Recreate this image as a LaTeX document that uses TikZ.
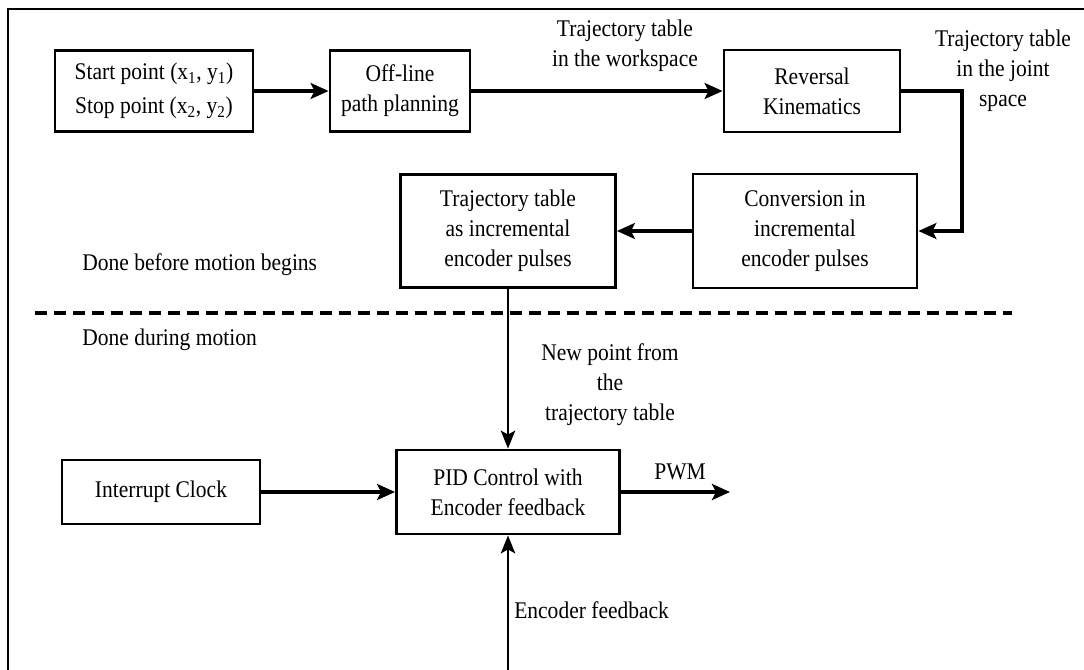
\documentclass[tikz,border=0pt]{standalone}
\usepackage{fontspec}
\setmainfont{Liberation Serif}[FakeStretch=0.9]
\usetikzlibrary{arrows.meta}
\begin{document}
\begin{tikzpicture}[x=0.025cm,y=-0.025cm,
  txt/.style={font=\fontsize{17}{21.3}\selectfont, align=center, inner sep=0pt},
  blk/.style={txt, draw, line width=2pt},
  arr/.style={line width=2.2pt, -{Stealth[length=0.45cm, width=0.4cm, inset=0.1cm]}},
  thinarr/.style={line width=1.6pt, -{Stealth[length=0.45cm, width=0.36cm, inset=0.1cm]}},
  sepline/.style={line width=2.2pt, dash pattern=on 8.5pt off 5pt},
  frameline/.style={line width=1.8pt}]
\useasboundingbox (0,0) rectangle (1084,670);

% outer frame (left and top edges)
\coordinate (fbl) at (8,670);
\coordinate (ftl) at (8,9);
\coordinate (ftr) at (1084,9);
\draw[frameline] (fbl) -- (ftl) -- (ftr);

% off-line stage
\node[blk, minimum width=4.95cm, minimum height=2.025cm,
      font=\fontsize{17}{24.5}\selectfont] (start) at (154,91)
  {Start point (x\textsubscript{1}, y\textsubscript{1})\\Stop point (x\textsubscript{2}, y\textsubscript{2})};
\node[blk, minimum width=3.5cm, minimum height=2.025cm] (offline) at (400,91)
  {Off-line\\path planning};
\node[blk, minimum width=4.4cm, minimum height=2.05cm] (reversal) at (812,91)
  {Reversal\\Kinematics};
\node[blk, minimum width=5.6cm, minimum height=2.85cm] (conversion) at (805,231)
  {Conversion in\\incremental\\encoder pulses};
\node[blk, minimum width=5.375cm, minimum height=2.825cm] (trajtab) at (508,231)
  {Trajectory table\\as incremental\\encoder pulses};

\coordinate (turn) at (962,91);
\draw[arr] (start) -- (offline);
\draw[arr] (offline) -- (reversal);
\draw[arr] (reversal.east) -- (turn) |- (conversion.east);
\draw[arr] (conversion) -- (trajtab);

\node[txt] (lblws) at (625,46) {Trajectory table\\in the workspace};
\node[txt] (lbljs) at (1003,71) {Trajectory table\\in the joint\\space};

% boundary between the two phases
\node[txt, anchor=west] (lblbefore) at (82,265) {Done before motion begins};
\coordinate (sepl) at (35,313);
\coordinate (sepr) at (1012,313);
\draw[sepline] (sepl) -- (sepr);
\node[txt, anchor=west] (lblduring) at (82,340) {Done during motion};

% real-time stage
\node[blk, minimum width=5.575cm, minimum height=2.1cm] (pid) at (508,492)
  {PID Control with\\Encoder feedback};
\node[blk, minimum width=4.95cm, minimum height=1.6cm] (clock) at (161,492)
  {Interrupt Clock};

\draw[thinarr] (trajtab.south) -- (pid.north);
\node[txt] (lblnew) at (610,385) {New point from\\the\\trajectory table};

\draw[arr] (clock) -- (pid);

\coordinate (pwmend) at (730,492);
\draw[arr] (pid) -- (pwmend);
\node[txt] (lblpwm) at (680,472) {PWM};

\coordinate (fbstart) at (508,670);
\draw[thinarr] (fbstart) -- (pid.south);
\node[txt, anchor=west] (lblfb) at (514,610) {Encoder feedback};
\end{tikzpicture}
\end{document}
